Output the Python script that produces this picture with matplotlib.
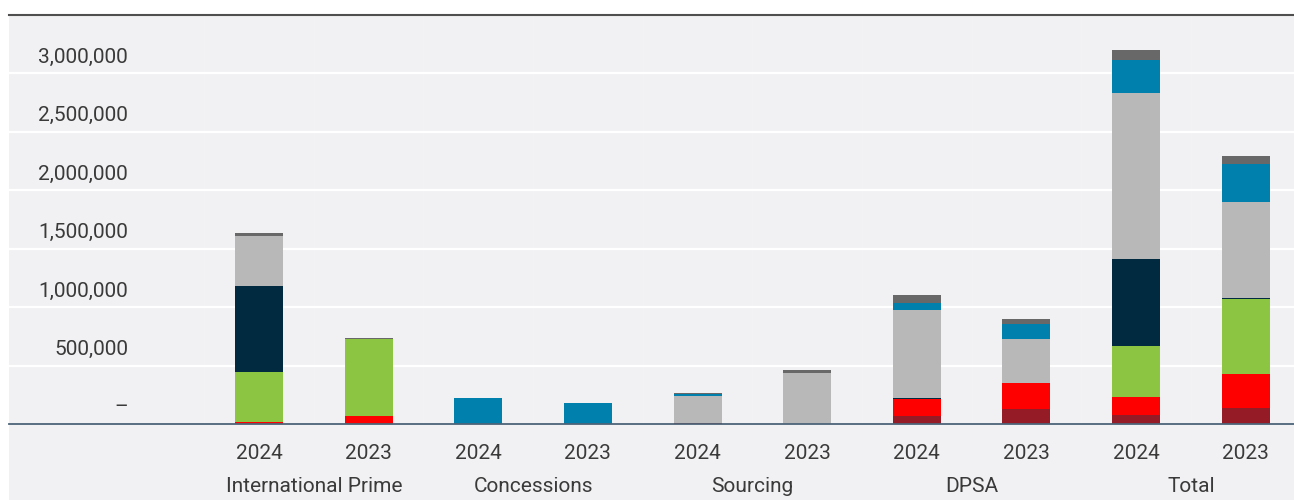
import numpy as np
import matplotlib
matplotlib.use("Agg")
import matplotlib.pyplot as plt
from matplotlib.patches import Rectangle
from matplotlib.lines import Line2D
from matplotlib.transforms import offset_copy


groups = ["International Prime", "Concessions", "Sourcing", "DPSA", "Total"]
years = ["2024", "2023"]

# stack order bottom -> top, bars: IP24, IP23, C24, C23, S24, S23, D24, D23, T24, T23
dark_red = [0, 0, 0, 0, 9000, 0, 68000, 128000, 77000, 139000]
red = [20000, 68000, 0, 0, 0, 0, 145000, 222000, 154000, 288000]
green = [425000, 658000, 0, 0, 0, 0, 0, 0, 436000, 641000]
navy = [735000, 0, 0, 0, 0, 0, 11000, 0, 744000, 11000]
light_gray = [427000, 0, 0, 0, 234000, 436000, 750000, 376000, 1419000, 818000]
blue = [0, 0, 222000, 180000, 11000, 0, 60000, 131000, 282000, 325000]
dark_gray = [26000, 8000, 0, 0, 9000, 26000, 68000, 40000, 85000, 68000]

y_ticks = [0, 500000, 1000000, 1500000, 2000000, 2500000, 3000000]
y_tick_labels = ["–", "500,000", "1,000,000", "1,500,000", "2,000,000", "2,500,000", "3,000,000"]

series = [
    (dark_red, "#951b26"),
    (red, "#ff0000"),
    (green, "#8bc541"),
    (navy, "#012a41"),
    (light_gray, "#b8b8b8"),
    (blue, "#0080ad"),
    (dark_gray, "#686868"),
]

plt.rcParams["font.family"] = ["Roboto", "DejaVu Sans"]
TEXT = "#3a3a3a"
BG = "#f1f1f3"

W, H, DPI = 1294, 500, 100
fig = plt.figure(figsize=(W / DPI, H / DPI), dpi=DPI)
fig.patch.set_facecolor("white")

# grey panel behind everything (plot + labels)
fig.patches.append(Rectangle((9 / W, 0), (W - 9) / W, (H - 15) / H,
                             transform=fig.transFigure, facecolor=BG,
                             edgecolor="none", zorder=-5))

ax_left, ax_top, ax_zero = 9, 15, 424
ax = fig.add_axes([ax_left / W, (H - ax_zero) / H, (W - ax_left) / W, (ax_zero - ax_top) / H])
ax.set_facecolor("none")
ax.set_zorder(2)

px_per_unit = 117 / 1e6
ax.set_ylim(0, (ax_zero - ax_top) / px_per_unit)
ax.set_xlim(-2.28, 9.44)

n_bars = len(dark_red)
x = np.arange(n_bars)

# very faint column separators
for b in np.arange(-0.5, n_bars, 1):
    ax.axvline(b, color="#f3f3f5", lw=0.5, zorder=1)

for t in y_ticks[1:]:
    ax.axhline(t, color="white", lw=1.6, zorder=1)

bottom = np.zeros(n_bars)
for vals, col in series:
    vals = np.array(vals, dtype=float)
    ax.bar(x, vals, width=0.438, bottom=bottom, color=col, edgecolor="none", zorder=3)
    bottom += vals

ax.axhline(0, color="#4d6579", lw=1.3, zorder=4, clip_on=False)

for s in ax.spines.values():
    s.set_visible(False)
ax.set_xticks([])
ax.set_yticks([])

# top rule
fig.add_artist(Line2D([ax_left / W, 1], [(H - ax_top) / H] * 2,
                      transform=fig.transFigure, color="#4f4f4f", lw=1.5, zorder=5))

# y labels sit above their gridlines
ytrans = offset_copy(ax.get_yaxis_transform(), fig=fig, y=10.5, units="dots")
for t, lab in zip(y_ticks, y_tick_labels):
    ax.text((128 - ax_left) / (W - ax_left), t, lab, transform=ytrans,
            ha="right", va="baseline", fontsize=15, color=TEXT)

# year labels and group labels below the axis
year_trans = offset_copy(ax.get_xaxis_transform(), fig=fig, y=-35, units="dots")
group_trans = offset_copy(ax.get_xaxis_transform(), fig=fig, y=-68, units="dots")
for i in range(n_bars):
    ax.text(x[i], 0, years[i % 2], transform=year_trans, ha="center",
            va="baseline", fontsize=15, color=TEXT, clip_on=False)
for g, name in enumerate(groups):
    ax.text(2 * g + 0.5, 0, name, transform=group_trans, ha="center",
            va="baseline", fontsize=15, color=TEXT, clip_on=False)

fig.savefig("out.png", dpi=DPI, facecolor=fig.get_facecolor())
plt.close(fig)
